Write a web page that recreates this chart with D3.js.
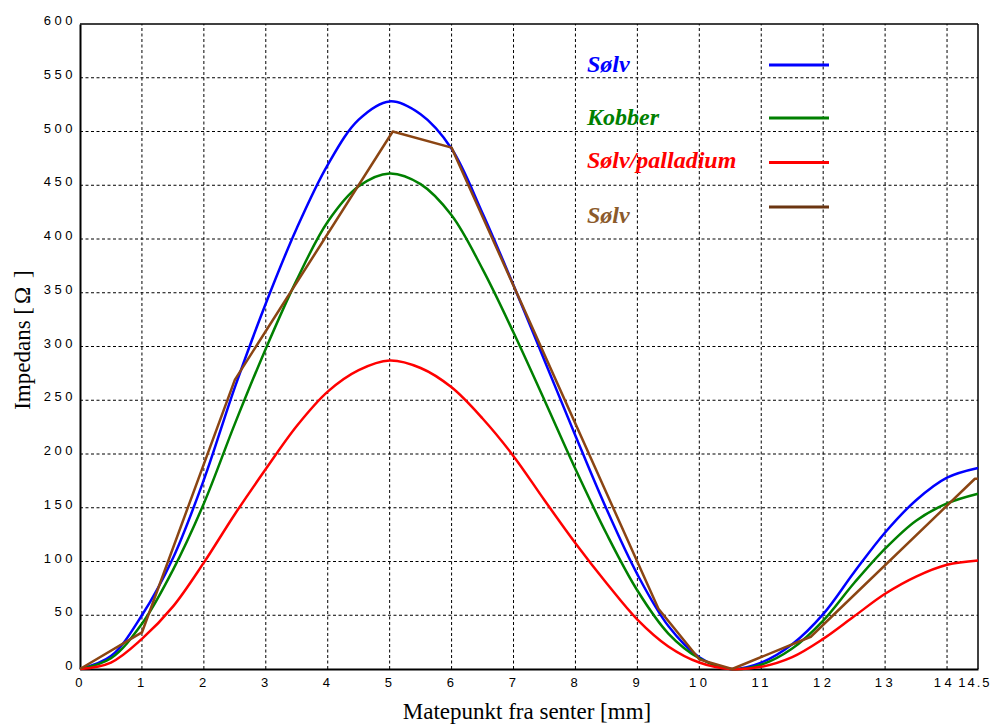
<!DOCTYPE html>
<html>
<head>
<meta charset="utf-8">
<script src="https://cdn.jsdelivr.net/npm/d3@7"></script>
<style>
  body { margin: 0; background: #fff; }
  .tick-label { font-family: "Liberation Sans Narrow", "Liberation Sans", Arial, sans-serif; font-size: 13px; letter-spacing: 3.5px; fill: #000; }
  .tick-label.tight { letter-spacing: 2px; }
  .axisText { font-family: "Liberation Serif", "Times New Roman", serif; font-size: 23px; fill: #000; }
  .legendText { font-family: "Liberation Serif", "Times New Roman", serif; font-size: 24px; font-weight: bold; font-style: italic; }
</style>
</head>
<body>
<div id="chart"></div>
<script>

// x positions for the smooth curves (mm)
var xs = [0, 0.5, 1, 1.5, 2, 2.5, 3, 3.5, 4, 4.5, 5, 5.5, 6, 6.5, 7, 7.5, 8, 8.5, 9, 9.5, 10, 10.5, 11, 11.5, 12, 12.5, 13, 13.5, 14, 14.5];

var solv = [0, 12, 50, 103, 176, 262, 340, 410, 469, 511, 528, 516, 484, 424, 357, 287, 217, 149, 88, 40, 11, 0, 6, 23, 51, 90, 127, 157, 178, 187];
var kobber = [0, 10, 42, 92, 154, 228, 298, 362, 416, 449, 461, 451, 422, 372, 313, 250, 186, 126, 73, 33, 10, 0, 4, 19, 45, 80, 112, 138, 154, 163];
var solvPalladium = [0, 6, 28, 58, 99, 144, 186, 226, 258, 278, 287, 280, 262, 233, 198, 157, 117, 80, 46, 21, 6, 0, 2, 11, 28, 49, 70, 86, 97, 101];

// measured points (straight segments)
var measX = [0, 1, 2.5, 5.05, 6, 9.34, 10, 10.53, 11.8, 14.45, 14.5];
var measY = [0, 34, 269, 500, 485, 56, 9, 0, 30, 177, 177];

var xTicks = [0, 1, 2, 3, 4, 5, 6, 7, 8, 9, 10, 11, 12, 13, 14, 14.5];
var yTicks = [0, 50, 100, 150, 200, 250, 300, 350, 400, 450, 500, 550, 600];

var legendNames = ["Sølv", "Kobber", "Sølv/palladium", "Sølv"];
var lineColors = ["#0000ff", "#008000", "#ff0000", "#8b4513"];
var textColors = ["#0000ff", "#008000", "#ff0000", "#8b5a2b"];

var svgWidth = 992;
var svgHeight = 726;

var svg = d3.select("#chart")
  .append("svg")
  .attr("width", svgWidth)
  .attr("height", svgHeight);

var x = d3.scaleLinear().domain([0, 14.5]).range([80, 978]);
var y = d3.scaleLinear().domain([0, 600]).range([669, 24]);

// grid
svg.append("g")
  .selectAll("line")
  .data(xTicks.filter(d => d > 0 && d < 14.5))
  .enter()
  .append("line")
  .attr("x1", d => x(d)).attr("x2", d => x(d))
  .attr("y1", y(0)).attr("y2", y(600))
  .attr("stroke", "#000")
  .attr("stroke-width", 1)
  .attr("stroke-dasharray", "3,2.5");

svg.append("g")
  .selectAll("line")
  .data(yTicks.filter(d => d > 0 && d < 600))
  .enter()
  .append("line")
  .attr("x1", x(0)).attr("x2", x(14.5))
  .attr("y1", d => y(d)).attr("y2", d => y(d))
  .attr("stroke", "#000")
  .attr("stroke-width", 1)
  .attr("stroke-dasharray", "3,2.5");

// frame
svg.append("line").attr("x1", x(0)).attr("x2", x(14.5)).attr("y1", y(600)).attr("y2", y(600))
  .attr("stroke", "#000").attr("stroke-width", 1.5);
svg.append("line").attr("x1", x(14.5)).attr("x2", x(14.5)).attr("y1", y(0)).attr("y2", y(600))
  .attr("stroke", "#000").attr("stroke-width", 1.5);

// axes (no tick marks, labels only)
var bottomAxis = d3.axisBottom(x).tickValues(xTicks).tickSize(0).tickPadding(9)
  .tickFormat(d => d3.format("")(d));
var leftAxis = d3.axisLeft(y).tickValues(yTicks).tickSize(0).tickPadding(7);

var gx = svg.append("g")
  .attr("transform", `translate(0, ${y(0)})`)
  .call(bottomAxis);
gx.select(".domain").attr("stroke", "#000").attr("stroke-width", 2);
gx.selectAll("text").attr("class", "tick-label").attr("font-family", null).attr("font-size", null);
// last two labels are squeezed against the right edge
gx.selectAll(".tick text").filter(d => d == 14)
  .attr("dx", "-3px");
gx.selectAll(".tick text").filter(d => d == 14.5)
  .attr("class", "tick-label tight")
  .attr("text-anchor", "end").attr("dx", "13px");

var gy = svg.append("g")
  .attr("transform", `translate(${x(0)}, 0)`)
  .call(leftAxis);
gy.select(".domain").attr("stroke", "#000").attr("stroke-width", 2);
gy.selectAll("text").attr("class", "tick-label").attr("font-family", null).attr("font-size", null)
  .attr("dy", "0.05em").attr("dx", "3px");

// curves
var series = [solv, kobber, solvPalladium];
var smooth = d3.line()
  .x((d, i) => x(xs[i]))
  .y(d => y(d))
  .curve(d3.curveCatmullRom.alpha(0.5));

series.forEach(function(vals, k) {
  svg.append("path")
    .datum(vals)
    .attr("d", smooth)
    .attr("fill", "none")
    .attr("stroke", lineColors[k])
    .attr("stroke-width", 2.5);
});

var straight = d3.line()
  .x((d, i) => x(measX[i]))
  .y(d => y(d));

svg.append("path")
  .datum(measY)
  .attr("d", straight)
  .attr("fill", "none")
  .attr("stroke", lineColors[3])
  .attr("stroke-width", 2.5)
  .attr("stroke-linejoin", "round");

// legend
var legendTextY = [72, 125, 168, 223];
var legendLineY = [65, 118, 162.5, 207];

legendNames.forEach(function(name, k) {
  svg.append("text")
    .attr("class", "legendText")
    .attr("x", 587)
    .attr("y", legendTextY[k])
    .attr("fill", textColors[k])
    .text(name);
  svg.append("line")
    .attr("x1", 769).attr("x2", 829)
    .attr("y1", legendLineY[k]).attr("y2", legendLineY[k])
    .attr("stroke", k == 3 ? "#6b3510" : lineColors[k])
    .attr("stroke-width", 3);
});

// axis titles
var yTitle = svg.append("text")
  .attr("class", "axisText")
  .attr("transform", "translate(30, 340) rotate(-90)")
  .attr("text-anchor", "middle");
yTitle.append("tspan").text("Impedans [");
yTitle.append("tspan").attr("dx", 3).text("Ω");
yTitle.append("tspan").attr("dx", 9).text("]");

svg.append("text")
  .attr("class", "axisText")
  .attr("x", 527)
  .attr("y", 719)
  .attr("text-anchor", "middle")
  .text("Matepunkt fra senter [mm]");

</script>
</body>
</html>
